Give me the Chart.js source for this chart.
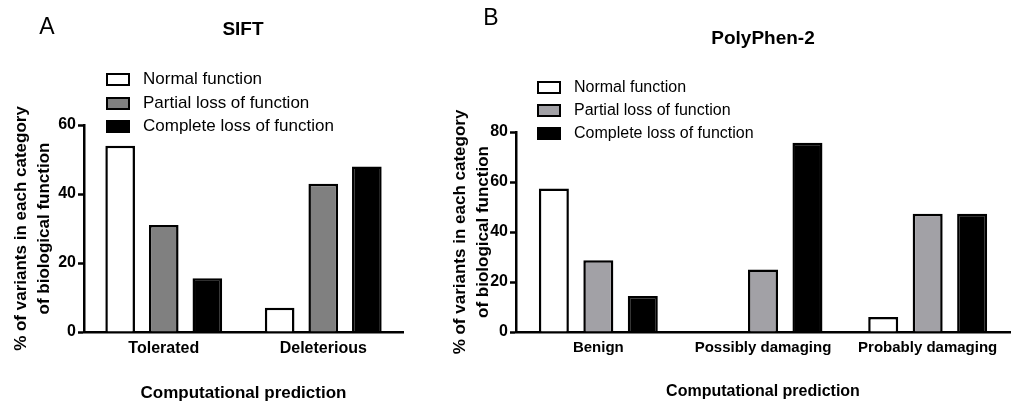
<!DOCTYPE html>
<html>
<head>
<meta charset="utf-8">
<script src="https://cdn.jsdelivr.net/npm/chart.js@4.4.1/dist/chart.umd.min.js"></script>
<style>
  body { margin: 0; background: #fff; font-family: "Liberation Sans", Arial, sans-serif; }
  #wrap { position: relative; width: 1013px; height: 407px; overflow: hidden; }
  .panel { position: absolute; top: 0; height: 407px; }
  .txt { position: absolute; white-space: nowrap; color: #000; line-height: 1; }
  .letter { font-size: 23px; transform: translate(-50%, -50%); }
  .title { font-size: 19px; font-weight: bold; transform: translate(-50%, -50%); }
  .legend { position: absolute; }
  .legend .row { position: absolute; left: 0; white-space: nowrap; display: flex; align-items: center; transform: translateY(-50%); }
  .legend .box { width: 20px; height: 9px; border: 2px solid #000; box-sizing: content-box; }
</style>
</head>
<body>
<div id="wrap">
  <div class="panel" style="left:0;width:420px;"><canvas id="siftChart"></canvas></div>
  <div class="panel" style="left:440px;width:573px;"><canvas id="polyChart"></canvas></div>

  <div class="txt letter" style="left:47px;top:26px;">A</div>
  <div class="txt title" style="left:243px;top:28px;">SIFT</div>
  <div class="txt letter" style="left:491px;top:17px;">B</div>
  <div class="txt title" style="left:763px;top:37px;">PolyPhen-2</div>

  <div class="legend" id="siftLegend" style="left:106px;top:0;font-size:17px;"></div>
  <div class="legend" id="polyLegend" style="left:537px;top:0;font-size:16px;"></div>
</div>

<script>
// series names
const seriesNames = ["Normal function", "Partial loss of function", "Complete loss of function"];

// SIFT panel
const siftCategories = ["Tolerated", "Deleterious"];
const siftNormal = [54, 7];
const siftPartial = [31, 43];
const siftComplete = [15.6, 48];
const siftTicks = [0, 20, 40, 60];

// PolyPhen-2 panel
const polyCategories = ["Benign", "Possibly damaging", "Probably damaging"];
const polyNormal = [57.4, 0, 6];
const polyPartial = [28.7, 25, 47.3];
const polyComplete = [14.4, 75.7, 47.3];
const polyTicks = [0, 20, 40, 60, 80];

Chart.defaults.font.family = '"Liberation Sans", Arial, sans-serif';
Chart.defaults.color = "#000";

function makeDatasets(values, grey, catPct, barPct) {
  const fills = ["#ffffff", grey, "#000000"];
  return values.map(function (v, i) {
    return {
      label: seriesNames[i],
      data: v,
      backgroundColor: fills[i],
      borderColor: "#000",
      borderWidth: 2.5,
      borderSkipped: "start",
      categoryPercentage: catPct,
      barPercentage: barPct,
    };
  });
}

function makeLegend(id, grey, rows) {
  const fills = ["#ffffff", grey, "#000000"];
  const el = document.getElementById(id);
  seriesNames.forEach(function (name, i) {
    const row = document.createElement("div");
    row.className = "row";
    row.style.top = rows[i] + "px";
    const box = document.createElement("span");
    box.className = "box";
    box.style.background = fills[i];
    const label = document.createElement("span");
    label.textContent = name;
    label.style.marginLeft = "13px";
    row.appendChild(box);
    row.appendChild(label);
    el.appendChild(row);
  });
}

function makeConfig(opts) {
  return {
    type: "bar",
    data: {
      labels: opts.categories,
      datasets: makeDatasets(opts.values, opts.grey, opts.catPct, opts.barPct),
    },
    options: {
      responsive: true,
      maintainAspectRatio: false,
      animation: false,
      events: [],
      layout: { padding: { top: opts.top, right: opts.right, left: 0, bottom: 0 } },
      plugins: { legend: { display: false }, tooltip: { enabled: false } },
      scales: {
        x: {
          grid: { display: false, drawTicks: false },
          border: { display: true, color: "#000", width: 2.5 },
          ticks: { padding: 7, font: { size: opts.xTickSize, weight: "bold" } },
          title: {
            display: true,
            text: "Computational prediction",
            font: { size: opts.xTitleSize, weight: "bold" },
            padding: { top: 0, bottom: opts.xTitlePad },
          },
          afterFit: function (scale) { scale.height = 75; },
        },
        y: {
          min: 0,
          max: opts.yMax,
          afterBuildTicks: function (scale) {
            scale.ticks = opts.ticks.map(function (v) { return { value: v }; });
          },
          grid: {
            display: true,
            drawOnChartArea: false,
            drawTicks: true,
            tickLength: 6,
            tickWidth: 2.5,
            tickColor: "#000",
          },
          border: { display: true, color: "#000", width: 2.5 },
          ticks: { padding: 2, font: { size: 16, weight: "bold" } },
          title: {
            display: true,
            text: ["% of variants in each category", "of biological function"],
            font: { size: 17, weight: "bold", lineHeight: 1.35 },
            padding: { top: opts.yTitlePad, bottom: 0 },
          },
          afterFit: function (scale) { scale.width = opts.yWidth; },
        },
      },
    },
  };
}

new Chart(document.getElementById("siftChart"), makeConfig({
  categories: siftCategories,
  values: [siftNormal, siftPartial, siftComplete],
  grey: "#808080",
  catPct: 0.82,
  barPct: 0.68,
  top: 125,
  right: 17,
  yMax: 60,
  ticks: siftTicks,
  yWidth: 84,
  yTitlePad: 10,
  xTickSize: 16,
  xTitleSize: 17,
  xTitlePad: 3,
}));

new Chart(document.getElementById("polyChart"), makeConfig({
  categories: polyCategories,
  values: [polyNormal, polyPartial, polyComplete],
  grey: "#a2a1a6",
  catPct: 0.81,
  barPct: 0.675,
  top: 132,
  right: 3,
  yMax: 80,
  ticks: polyTicks,
  yWidth: 76,
  yTitlePad: 9,
  xTickSize: 15,
  xTitleSize: 16,
  xTitlePad: 6,
}));

makeLegend("siftLegend", "#808080", [79, 103, 126]);
makeLegend("polyLegend", "#a2a1a6", [87, 110, 133]);
</script>
</body>
</html>
